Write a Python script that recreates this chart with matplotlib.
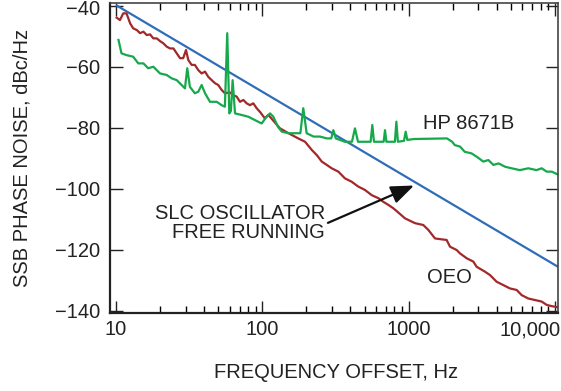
import matplotlib
matplotlib.use("Agg")
import matplotlib.pyplot as plt
from matplotlib.ticker import FixedLocator, NullFormatter
import matplotlib.transforms as mtransforms

plt.rcParams['font.family'] = ['Liberation Sans', 'DejaVu Sans']

# ---------------- data ----------------
oeo_f = [10.1, 10.65, 11.2, 11.8, 12.5, 13.1, 13.9, 14.6, 15.4, 16.2, 17.1, 18.0, 19.0, 20.0,
         21.05, 22.2, 23.4, 24.7, 26.0, 27.4, 28.8, 30.1, 31.2, 32.9, 34.6, 36.5, 38.5, 40.6,
         42.7, 45.1, 47.5, 50.0, 52.7, 55.5, 60.0, 63.3, 66.8, 70.4, 74.2, 78.2, 82.4, 86.8,
         91.5, 96.4, 104, 110, 132, 151, 176, 196, 218, 236, 255, 276, 298, 331, 367, 408,
         453, 503, 559, 621, 672, 727, 786, 860, 944, 1106, 1260, 1364, 1515, 1682, 1820,
         1918, 2131, 2245, 2494, 2770, 2918, 3326, 3598, 3997, 4440, 4932, 5478, 5929, 6583,
         7311, 8120, 8792, 9510, 10540]
oeo_db = [-43.9, -44.7, -42.5, -42.5, -45.8, -47.4, -48.0, -49.0, -48.5, -49.6, -49.4, -50.7,
          -50.7, -51.6, -52.3, -53.4, -54.0, -54.0, -55.6, -57.2, -57.2, -54.5, -57.8, -59.4,
          -59.4, -61.1, -62.2, -61.6, -63.3, -64.4, -65.4, -66.0, -67.6, -68.7, -68.4, -69.3,
          -69.8, -71.5, -70.9, -72.0, -72.6, -72.0, -73.6, -74.8, -76.9, -75.8, -80.2, -81.8,
          -83.5, -84.6, -87.3, -89.0, -91.1, -92.2, -93.3, -94.4, -96.6, -97.7, -99.3, -100.4,
          -102.1, -103.1, -104.3, -105.3, -106.4, -108.0, -109.7, -111.3, -111.9, -113.5,
          -116.3, -116.6, -116.8, -119.0, -120.1, -121.2, -122.8, -123.9, -125.6, -127.2,
          -128.3, -130.5, -131.6, -132.7, -133.2, -134.9, -136.0, -136.5, -137.0, -138.1,
          -138.5, -138.9]

hp_f = [10.4, 10.9, 11.8, 13.1, 14.2, 15.4, 16.6, 18.0, 20.0, 22.2, 24.0, 26.0, 28.1, 29.6,
        30.7, 32.0, 34.6, 36.5, 38.5, 40.6, 43.9, 48.8, 52.7, 55.5, 57.6, 59.5, 61.0, 62.7,
        65.1, 72.0, 80.3, 89, 99, 107, 113, 119, 128, 136, 151, 172, 182, 190.6, 201, 224,
        248, 276, 296, 306, 318, 367, 410, 430, 451, 527, 550, 565, 580, 656, 675, 690, 705,
        806, 825, 845, 930, 955, 980, 1090, 1830, 1985, 2070, 2250, 2420, 2690, 2920, 3240,
        3510, 3800, 4120, 4570, 5060, 5760, 6580, 7490, 8120, 8790, 9510, 10330, 10500]
hp_db = [-51.2, -55.6, -56.2, -56.7, -58.9, -58.9, -60.5, -60.0, -62.2, -62.7, -63.8, -64.4,
         -66.0, -67.1, -60.5, -66.6, -68.7, -68.2, -66.0, -68.7, -71.5, -71.5, -72.6, -73.1,
         -49.0, -75.3, -74.5, -64.4, -75.3, -75.8, -76.4, -77.5, -78.6, -76.4, -75.3, -76.4,
         -79.7, -81.3, -81.8, -81.8, -81.8, -73.6, -81.8, -82.9, -82.9, -83.5, -83.5, -80.8,
         -83.5, -84.6, -84.6, -80.2, -84.6, -84.6, -84.6, -79.1, -84.6, -84.6, -84.6, -80.8,
         -84.6, -84.6, -78.0, -84.6, -84.3, -81.3, -84.0, -83.7, -83.5, -84.6, -85.7, -86.2,
         -87.9, -88.4, -89.5, -91.1, -90.6, -92.2, -91.7, -92.8, -93.3, -93.9, -93.3, -93.9,
         -93.3, -94.4, -94.4, -95.2, -95.3]

slc_f = [10, 10500]
slc_db = [-39.8, -125.6]

xticks = [10, 100, 1000, 10000]
xticklabels = ['10', '100', '1000', '10,000']
yticks = [-140, -120, -100, -80, -60, -40]
yticklabels = ['\u2212140', '\u2212120', '\u2212100', '\u221280', '\u221260', '\u221240']

# ---------------- figure ----------------
W, H = 561, 391
fig = plt.figure(figsize=(W / 100, H / 100), dpi=100)
x0, x1, y0, y1 = 110, 558, 3.3, 313.3
ax = fig.add_axes([x0 / W, 1 - y1 / H, (x1 - x0) / W, (y1 - y0) / H])

red = '#A3282A'
green = '#16A94B'
blue = '#2F6DB8'

ax.plot(slc_f, slc_db, color=blue, lw=1.6, solid_capstyle='butt')
ax.plot(oeo_f, oeo_db, color=red, lw=1.6)
ax.plot(hp_f, hp_db, color=green, lw=1.6)

ax.set_xscale('log')
ax.set_xlim(9.1, 10500)
ax.set_ylim(-140.85, -39.2)

ax.xaxis.set_major_locator(FixedLocator(xticks))
ax.set_xticklabels(xticklabels)
minors = [m * d for d in [10, 100, 1000] for m in range(2, 10)]
ax.xaxis.set_minor_locator(FixedLocator(minors))
ax.xaxis.set_minor_formatter(NullFormatter())
ax.set_yticks(yticks)
ax.set_yticklabels(yticklabels)

ax.tick_params(axis='both', which='major', direction='in', length=9, width=1.0,
               top=True, right=True, labelsize=14.5, colors='#222222')
ax.tick_params(axis='x', which='major', pad=5)
ax.tick_params(axis='y', which='major', pad=7)
ax.tick_params(axis='x', which='minor', direction='in', length=5, width=1.0, top=True)

for s in ['left', 'bottom']:
    ax.spines[s].set_linewidth(1.6)
    ax.spines[s].set_color('#222222')
for s in ['right', 'top']:
    ax.spines[s].set_linewidth(1.2)
    ax.spines[s].set_color('#444444')

# shift the last x tick label so it fits inside the figure
last = ax.get_xticklabels()[-1]
last.set_horizontalalignment('right')
last.set_transform(last.get_transform() + mtransforms.ScaledTranslation(6 / 100, 0, fig.dpi_scale_trans))
# nudge the top y tick label down slightly so it stays inside the figure
top = ax.get_yticklabels()[-1]
top.set_transform(top.get_transform() + mtransforms.ScaledTranslation(0, -2 / 100, fig.dpi_scale_trans))

# annotations
txtc = '#222222'
ax.text(2590, -78.6, 'HP 8671B', fontsize=14.5, ha='center', va='center', color=txtc)
ax.text(1888, -129.0, 'OEO', fontsize=14.5, ha='center', va='center', color=txtc)
ax.text(268, -111.1, 'SLC OSCILLATOR\nFREE RUNNING', fontsize=14.5, ha='right', va='center',
        multialignment='right', color=txtc, linespacing=1.0)
ax.annotate('', xy=(1089, -98.95), xytext=(281, -111.2),
            arrowprops=dict(arrowstyle='-|>,head_length=1.4,head_width=0.55', color='#111111',
                            lw=1.6, shrinkA=0, shrinkB=0))

fig.text(22 / W, 1 - 158.3 / H, 'SSB PHASE NOISE, dBc/Hz', rotation=90, fontsize=14.5,
         ha='center', va='center', color=txtc)
fig.text(336 / W, 1 - 373 / H, 'FREQUENCY OFFSET, Hz', fontsize=14.5, ha='center', va='center',
         color=txtc)

fig.savefig('out.png', dpi=100)
